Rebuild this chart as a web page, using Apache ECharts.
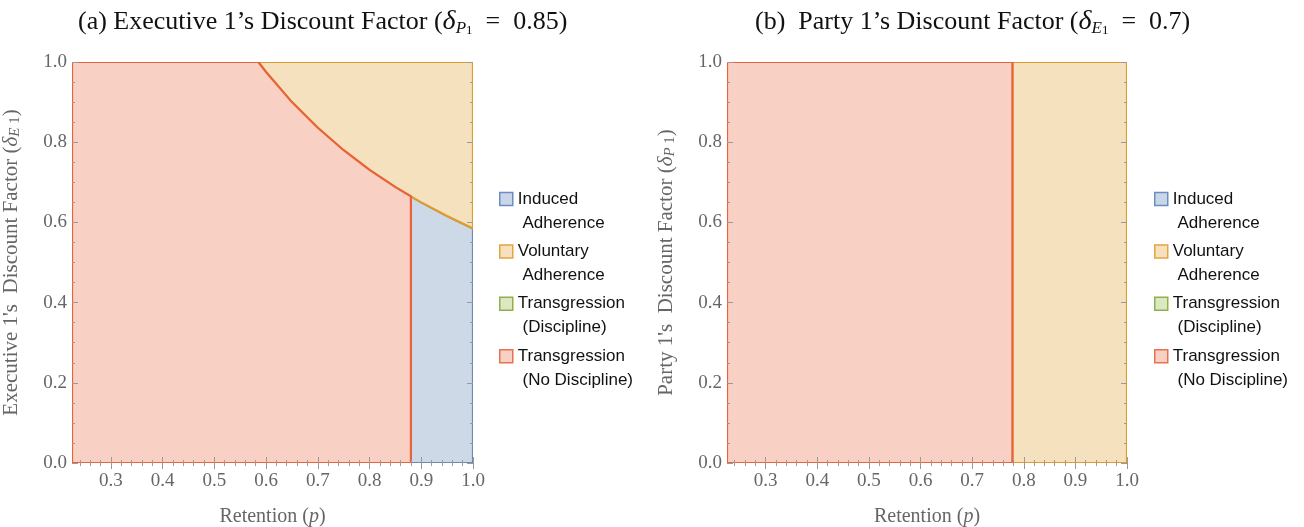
<!DOCTYPE html>
<html>
<head>
<meta charset="utf-8">
<script src="https://cdn.jsdelivr.net/npm/echarts@6/dist/echarts.min.js"></script>
<style>
  html, body { margin: 0; padding: 0; background: #fff; }
  #chart { width: 1304px; height: 527px; }
</style>
</head>
<body>
<div id="chart"></div>
<script>
/** axis range */
const xMin = 0.225;
const xMax = 1.0;

/** tick values */
const xMajorTicks = [0.3, 0.4, 0.5, 0.6, 0.7, 0.8, 0.9, 1.0];
const xMinorTicks = [0.24, 0.26, 0.28, 0.32, 0.34, 0.36, 0.38, 0.42, 0.44, 0.46, 0.48,
  0.52, 0.54, 0.56, 0.58, 0.62, 0.64, 0.66, 0.68, 0.72, 0.74, 0.76, 0.78,
  0.82, 0.84, 0.86, 0.88, 0.92, 0.94, 0.96, 0.98];
const yMajorTicks = [0, 0.2, 0.4, 0.6, 0.8, 1.0];
const yMinorTicks = [0.05, 0.1, 0.15, 0.25, 0.3, 0.35, 0.45, 0.5, 0.55, 0.65, 0.7, 0.75, 0.85, 0.9, 0.95];

/** panel (a): boundary between transgression and adherence */
const curveP = [0.585, 0.6, 0.65, 0.7, 0.75, 0.8, 0.85, 0.88, 0.9, 0.95, 1.0];
const curveD = [1.0, 0.975, 0.9, 0.836, 0.78, 0.731, 0.688, 0.665, 0.65, 0.616, 0.585];
const cutA = 0.88;

/** panel (b): vertical boundary */
const cutB = 0.778;

const legendNames = ["Induced Adherence", "Voluntary Adherence", "Transgression (Discipline)", "Transgression (No Discipline)"];
const legendLabels = ["\nInduced\n Adherence", "\nVoluntary\n Adherence", "\nTransgression\n (Discipline)", "\nTransgression\n (No Discipline)"];

const colors = {
  "Induced Adherence": { fill: "#cdd9e7", stroke: "#6d87b3", icon: "#c9d6e8", iconBorder: "#6b8dc4" },
  "Voluntary Adherence": { fill: "#f5e1be", stroke: "#e09b2d", icon: "#f6e0bd", iconBorder: "#e4a53c" },
  "Transgression (Discipline)": { fill: "#dbe8c1", stroke: "#8fb04c", icon: "#dbe8c1", iconBorder: "#8fb04c" },
  "Transgression (No Discipline)": { fill: "#f9d0c4", stroke: "#e8623c", icon: "#f9d0c4", iconBorder: "#e8714f" },
};

/** build polygons */
const curve = curveP.map((p, i) => [p, curveD[i]]);
const cutIdx = curveP.indexOf(cutA);
const polyA = {
  "Induced Adherence": [...curve.slice(cutIdx), [xMax, 0], [cutA, 0]],
  "Voluntary Adherence": [...curve, [xMax, 1]],
  "Transgression (No Discipline)": [[xMin, 0], [xMin, 1], ...curve.slice(0, cutIdx + 1), [cutA, 0]],
};
const polyB = {
  "Voluntary Adherence": [[cutB, 0], [cutB, 1], [xMax, 1], [xMax, 0]],
  "Transgression (No Discipline)": [[xMin, 0], [xMin, 1], [cutB, 1], [cutB, 0]],
};

const grids = [
  { left: 72, top: 62, width: 401, height: 401, outerBoundsMode: "none", containLabel: false },
  { left: 727, top: 62, width: 400, height: 401, outerBoundsMode: "none", containLabel: false },
];

const serif = "Liberation Serif";
const grey = "#666";
const tickColor = "#9a9a9a";

const xAxes = [];
const yAxes = [];
grids.forEach((g, gi) => {
  const base = { gridIndex: gi, type: "value", min: xMin, max: xMax, z: 5,
    axisLine: { show: false }, splitLine: { show: false } };
  xAxes.push({
    ...base, position: "bottom",
    name: "Retention ({i|p})", nameLocation: "middle", nameGap: 44,
    nameTextStyle: { color: grey, fontFamily: serif, fontSize: 20,
      rich: { i: { fontStyle: "italic", color: grey, fontFamily: serif, fontSize: 20 } } },
    axisTick: { inside: true, length: 6, lineStyle: { color: tickColor }, customValues: xMajorTicks },
    axisLabel: { color: grey, fontFamily: serif, fontSize: 19, margin: 9,
      customValues: xMajorTicks, formatter: (v) => v.toFixed(1) },
  });
  xAxes.push({ ...base, position: "bottom",
    axisTick: { inside: true, length: 3, lineStyle: { color: tickColor }, customValues: xMinorTicks },
    axisLabel: { show: false, customValues: xMinorTicks } });
  xAxes.push({ ...base, position: "top",
    axisTick: { inside: true, length: 6, lineStyle: { color: tickColor }, customValues: xMajorTicks },
    axisLabel: { show: false, customValues: xMajorTicks } });
  xAxes.push({ ...base, position: "top",
    axisTick: { inside: true, length: 3, lineStyle: { color: tickColor }, customValues: xMinorTicks },
    axisLabel: { show: false, customValues: xMinorTicks } });

  const ybase = { gridIndex: gi, type: "value", min: 0, max: 1, z: 5,
    axisLine: { show: false }, splitLine: { show: false } };
  const who = gi === 0 ? "Executive 1's  Discount Factor" : "Party 1's  Discount Factor";
  const sub = gi === 0 ? "E" : "P";
  yAxes.push({
    ...ybase, position: "left",
    name: who + " ({i|δ}{s|" + sub + "}{n| 1})", nameLocation: "middle", nameGap: 49,
    nameTextStyle: { color: grey, fontFamily: serif, fontSize: 21,
      rich: {
        i: { fontStyle: "italic", color: grey, fontFamily: serif, fontSize: 21 },
        s: { fontStyle: "italic", color: grey, fontFamily: serif, fontSize: 15, padding: [9, 0, 0, 0] },
        n: { color: grey, fontFamily: serif, fontSize: 15, padding: [9, 0, 0, 0] },
      } },
    axisTick: { inside: true, length: 6, lineStyle: { color: tickColor }, customValues: yMajorTicks },
    axisLabel: { color: grey, fontFamily: serif, fontSize: 19, margin: 5,
      customValues: yMajorTicks, formatter: (v) => v.toFixed(1) },
  });
  yAxes.push({ ...ybase, position: "left",
    axisTick: { inside: true, length: 3, lineStyle: { color: tickColor }, customValues: yMinorTicks },
    axisLabel: { show: false, customValues: yMinorTicks } });
  yAxes.push({ ...ybase, position: "right",
    axisTick: { inside: true, length: 6, lineStyle: { color: tickColor }, customValues: yMajorTicks },
    axisLabel: { show: false, customValues: yMajorTicks } });
  yAxes.push({ ...ybase, position: "right",
    axisTick: { inside: true, length: 3, lineStyle: { color: tickColor }, customValues: yMinorTicks },
    axisLabel: { show: false, customValues: yMinorTicks } });
});

/** one custom series per region polygon */
const regionSeries = (name, points, gi, z) => ({
  type: "custom",
  name,
  xAxisIndex: gi * 4,
  yAxisIndex: gi * 4,
  z,
  clip: true,
  silent: true,
  data: points,
  renderItem: (params, api) => {
    if (params.dataIndex !== 0) return;
    const pts = points.map((p) => api.coord(p));
    return {
      type: "polygon",
      shape: { points: pts },
      style: { fill: colors[name].fill, stroke: colors[name].stroke, lineWidth: 2.2, lineJoin: "miter" },
    };
  },
});

const zOrder = { "Induced Adherence": 1, "Voluntary Adherence": 2, "Transgression (No Discipline)": 3 };
const series = [];
Object.entries(polyA).forEach(([n, pts]) => series.push(regionSeries(n, pts, 0, zOrder[n])));
Object.entries(polyB).forEach(([n, pts]) => series.push(regionSeries(n, pts, 1, zOrder[n])));
/** empty series so every legend entry exists */
legendNames.forEach((n) => {
  if (!series.some((s) => s.name === n))
    series.push({ type: "custom", name: n, xAxisIndex: 0, yAxisIndex: 0, data: [], renderItem: () => null });
});

const legendData = legendNames.map((n) => ({
  name: n,
  icon: "rect",
  itemStyle: { color: colors[n].icon, borderColor: colors[n].iconBorder, borderWidth: 1.5 },
}));

const makeLegend = (left) => ({
  orient: "vertical",
  left,
  top: 158,
  itemWidth: 13,
  itemHeight: 13,
  itemGap: -19.6,
  selectedMode: false,
  data: legendData,
  formatter: (n) => legendLabels[legendNames.indexOf(n)],
  textStyle: { color: "#111", fontFamily: "Liberation Sans", fontSize: 17, lineHeight: 24 },
});

const titleRich = {
  d: { fontStyle: "italic", fontFamily: serif, fontSize: 28, color: "#111" },
  s: { fontStyle: "italic", fontFamily: serif, fontSize: 17, color: "#111", padding: [13, 0, 0, 0] },
  n: { fontFamily: serif, fontSize: 13, color: "#111", padding: [17, 0, 0, 0] },
};

const option = {
  animation: false,
  title: [
    { text: "(a) Executive 1’s Discount Factor ({d|δ}{s|P}{n|1}  =  0.85)", left: 73, top: 2,
      textStyle: { fontFamily: serif, fontSize: 26, fontWeight: "normal", color: "#111", rich: titleRich } },
    { text: "(b)  Party 1’s Discount Factor ({d|δ}{s|E}{n|1}  =  0.7)", left: 750, top: 2,
      textStyle: { fontFamily: serif, fontSize: 26, fontWeight: "normal", color: "#111", rich: titleRich } },
  ],
  grid: grids,
  xAxis: xAxes,
  yAxis: yAxes,
  legend: [makeLegend(494), makeLegend(1149)],
  series,
};

const chart = echarts.init(document.getElementById("chart"));
chart.setOption(option);
</script>
</body>
</html>
